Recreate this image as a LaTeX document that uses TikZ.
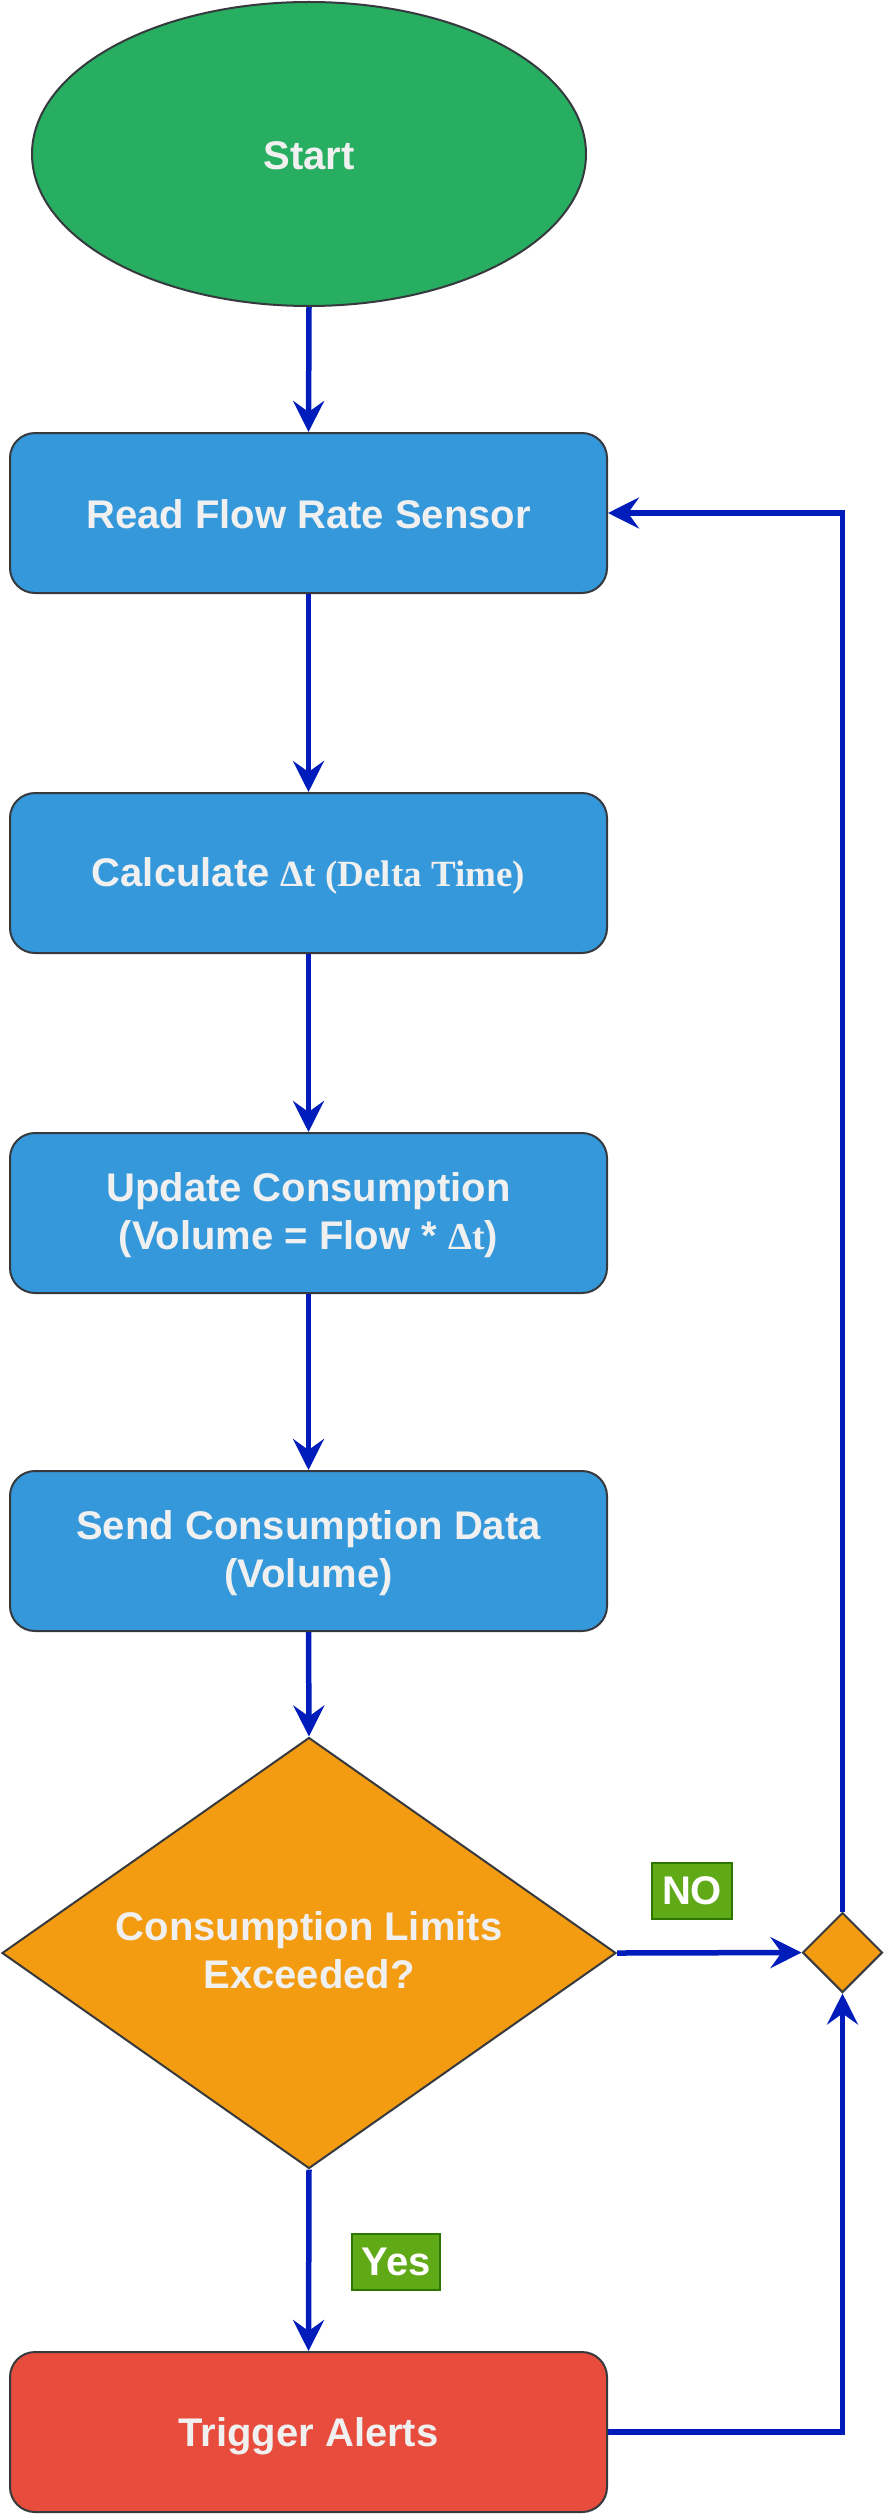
\documentclass[tikz,border=0pt]{standalone}
\usepackage{fontspec}
\setmainfont{Liberation Sans}
\newfontfamily\tnr{Liberation Serif}
\usetikzlibrary{arrows.meta,shapes.geometric}
\definecolor{startgreen}{HTML}{27AE60}
\definecolor{boxblue}{HTML}{3498DB}
\definecolor{decorange}{HTML}{F39C12}
\definecolor{alertred}{HTML}{E74C3C}
\definecolor{labgreen}{HTML}{60A917}
\definecolor{labborder}{HTML}{2D7600}
\definecolor{flowblue}{HTML}{001DBC}
\definecolor{edgegray}{HTML}{36393D}
\definecolor{txt}{HTML}{F0F0F0}
\tikzset{
  lbl/.style={font=\fontsize{40}{48}\selectfont\bfseries, text=txt, align=center},
  procbox/.style={draw=edgegray, line width=2pt, rectangle, rounded corners=25pt,
    minimum width=597pt, minimum height=160pt, fill=boxblue, inner sep=0pt},
  flow/.style={draw=flowblue, line width=5.5pt, -{Stealth[length=31pt,width=31pt,inset=11pt]}},
  tag/.style={draw=labborder, line width=2pt, fill=labgreen, text=white,
    font=\fontsize{40}{48}\selectfont\bfseries, inner sep=0pt, minimum height=56pt},
}
\begin{document}
\begin{tikzpicture}[x=1pt,y=-1pt]
\useasboundingbox (0,0) rectangle (884,2518);
% start
\node[ellipse, draw=edgegray, line width=2pt, fill=startgreen, minimum width=554pt,
  minimum height=304pt, inner sep=0pt] (start) at (309,154) {};
\node[lbl] (starttxt) at (309,156) {Start};
% process boxes
\node[procbox] (b1) at (308.5,513) {};
\node[lbl] (b1txt) at (308.5,514) {Read Flow Rate Sensor};
\node[procbox] (b2) at (308.5,873) {};
\node[lbl] (b2txt) at (308.5,876) {Calculate {\tnr\fontsize{37}{44}\selectfont Δt (Delta Time)}};
\node[procbox] (b3) at (308.5,1213) {};
\node[lbl] (b3txt) at (308.5,1215) {Update Consumption\\(Volume = Flow * {\tnr\fontsize{38}{44}\selectfont Δt})};
\node[procbox] (b4) at (308.5,1551) {};
\node[lbl] (b4txt) at (308.5,1553) {Send Consumption Data\\(Volume)};
% decision
\node[diamond, draw=edgegray, line width=2pt, fill=decorange, minimum width=614pt,
  minimum height=431pt, inner sep=0pt] (dec) at (309,1953) {};
\node[lbl] (dectxt) at (309,1950) {Consumption Limits\\Exceeded?};
% merge diamond
\node[diamond, draw=edgegray, line width=2pt, fill=decorange, minimum width=80pt,
  minimum height=80pt, inner sep=0pt] (merge) at (842.5,1952.5) {};
% alert
\node[procbox, fill=alertred] (alert) at (308.5,2432) {};
\node[lbl] (alerttxt) at (308.5,2436) {Trigger Alerts};
% labels
\node[tag, minimum width=80pt] (no) at (692,1891) {NO};
\node[tag, minimum width=88pt] (yes) at (396,2262) {Yes};
% connectors
\draw[flow] (start.south) -- (b1.north);
\draw[flow] (b1.south) -- (b2.north);
\draw[flow] (b2.south) -- (b3.north);
\draw[flow] (b3.south) -- (b4.north);
\draw[flow] (b4.south) -- (dec.north);
\draw[flow] (dec.east) -- (merge.west);
\draw[flow] (merge.north) |- (b1.east);
\draw[flow] (dec.south) -- (alert.north);
\draw[flow] (alert.east) -| (merge.south);
\end{tikzpicture}
\end{document}
